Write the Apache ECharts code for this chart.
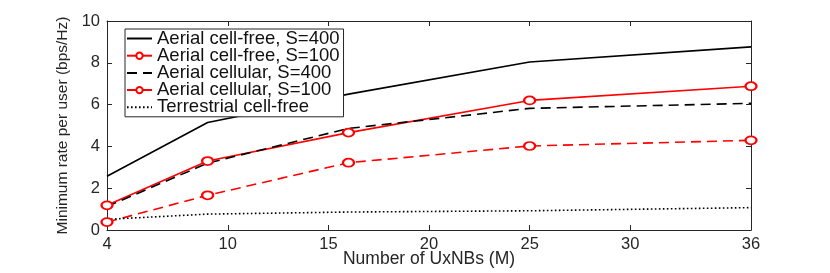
<!DOCTYPE html>
<html><head><meta charset="utf-8">
<script src="https://cdn.jsdelivr.net/npm/echarts@6/dist/echarts.min.js"></script>
<style>html,body{margin:0;padding:0;background:#fff}#c{width:830px;height:273px}</style>
</head><body><div id="c"></div>
<script>
const xValues = [4, 9, 16, 25, 36];
const xTicks = [4, 10, 15, 20, 25, 30, 36];
const cellFree400 = [2.57, 5.14, 6.5, 8.04, 8.76];
const cellFree100 = [1.18, 3.30, 4.66, 6.20, 6.88];
const cellular400 = [1.12, 3.20, 4.86, 5.82, 6.06];
const cellular100 = [0.38, 1.66, 3.22, 4.02, 4.29];
const terrestrial = [0.51, 0.76, 0.86, 0.92, 1.07];
const names = ['Aerial cell-free, S=400','Aerial cell-free, S=100','Aerial cellular, S=400','Aerial cellular, S=100','Terrestrial cell-free'];
const hasMarker = [false, true, false, true, false];

const pair = arr => xValues.map((x,i)=>[x,arr[i]]);
const F = 'Liberation Sans, Arial, Helvetica, sans-serif';
const frame = '#262626';
const chart = echarts.init(document.getElementById('c'), null, {renderer:'canvas'});
const mk = (name, data, color, type, sym) => ({
  name, type:'line', data: pair(data), xAxisIndex:0, yAxisIndex:0,
  symbol: 'emptyCircle', symbolSize: sym ? [11,8] : 0, showSymbol: sym,
  itemStyle:{color, borderWidth:1.6},
  lineStyle:{color, width:1.6, type}, animation:false
});
const axisCommon = {
  axisLine:{show:true, onZero:false, lineStyle:{color:frame, width:1}},
  splitLine:{show:false}
};
chart.setOption({
  animation:false,
  grid:{left:107, right:79, top:21, bottom:43, outerBoundsMode:'none', containLabel:false},
  legend:{
    orient:'vertical', left:125, top:29,
    backgroundColor:'#fff', borderColor:frame, borderWidth:1,
    padding:[0,4,0,1], itemWidth:25, itemHeight:8, itemGap:-1.8,
    textStyle:{fontFamily:F, fontSize:18.5, color:'#111'},
    data: names.map((n,i)=> hasMarker[i] ? {name:n} : {name:n, itemStyle:{opacity:0}})
  },
  xAxis:[
    Object.assign({type:'value', min:4, max:36, position:'bottom',
      name:'Number of UxNBs (M)', nameLocation:'middle', nameGap:20, nameMoveOverlap:false,
      nameTextStyle:{fontFamily:F, fontSize:17.5, color:'#262626', verticalAlign:'top'},
      axisTick:{show:true, inside:true, length:5, customValues:xTicks, lineStyle:{color:frame}},
      axisLabel:{fontFamily:F, fontSize:16.5, color:'#262626', margin:6, customValues:xTicks}
    }, axisCommon),
    Object.assign({type:'value', min:4, max:36, position:'top',
      axisTick:{show:true, inside:true, length:5, customValues:xTicks, lineStyle:{color:frame}},
      axisLabel:{show:false}
    }, axisCommon)
  ],
  yAxis:[
    Object.assign({type:'value', min:0, max:10, interval:2, position:'left',
      name:'Minimum rate per user (bps/Hz)', nameLocation:'middle', nameGap:36, nameMoveOverlap:false,
      nameTextStyle:{fontFamily:F, fontSize:15.5, color:'#262626'},
      axisTick:{show:true, inside:true, length:5, lineStyle:{color:frame}},
      axisLabel:{fontFamily:F, fontSize:16.5, color:'#262626', margin:7}
    }, axisCommon),
    Object.assign({type:'value', min:0, max:10, interval:2, position:'right',
      axisTick:{show:true, inside:true, length:5, lineStyle:{color:frame}},
      axisLabel:{show:false}
    }, axisCommon)
  ],
  series:[
    mk(names[0], cellFree400, '#000000', 'solid', false),
    mk(names[1], cellFree100, '#ff0000', 'solid', true),
    mk(names[2], cellular400, '#000000', [10,6], false),
    mk(names[3], cellular100, '#ff0000', [10,6], true),
    mk(names[4], terrestrial, '#000000', [1.6,2.4], false)
  ]
});
</script></body></html>
